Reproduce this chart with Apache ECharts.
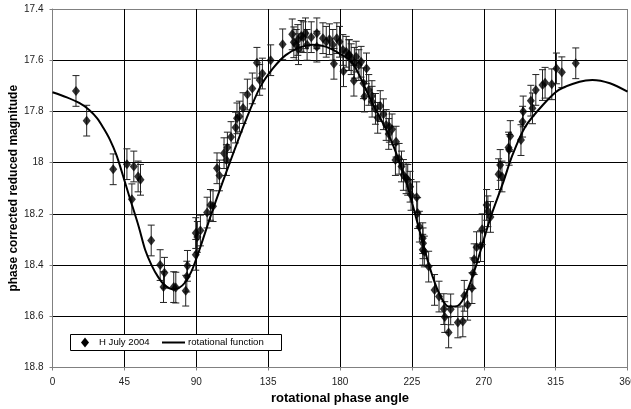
<!DOCTYPE html>
<html><head><meta charset="utf-8">
<script src="https://cdn.jsdelivr.net/npm/echarts@6/dist/echarts.min.js"></script>
<style>html,body{margin:0;padding:0;background:#fff}#c{width:631px;height:409px}</style>
</head><body><div id="c"></div>
<script>
// Observations: rotational phase angle (deg), phase corrected reduced magnitude, error
var phaseAngle = [14.7,21.4,38,46.6,49.7,50.9,53.6,55.1,61.8,67.4,69.5,70.1,75.9,77.2,83.4,84.1,84.5,89.7,89.7,90.7,
  92.6,96.8,98.9,100.5,103,104.5,107.4,108.9,109.5,111.8,114.6,115.5,117,119.3,122,125.1,128,129.7,131.4,136.6,
  144.1,150.1,151.1,152.6,153.6,154,155.7,157,158.4,159.4,162,165.5,165.5,169.3,171.4,173.4,175.5,176.2,178,179.7,
  181.8,182.2,183.9,185.5,185.9,187,188.7,189,190.1,191.8,193.2,194.7,195.3,196.6,198,200,200.1,202.2,203.6,205.2,
  207.2,208.9,210.5,210.9,212.6,215.1,214.7,217,218.5,219.7,221.4,222.4,223.9,224.5,228,228.6,229.7,231.8,232,231.8,
  232.8,235.5,239.2,242,245,245.6,248,249.3,253.8,256.9,257.8,259.9,262.6,263.2,264,265.5,268,269,271.8,272.6,
  274.2,279.3,280.3,281.4,285.5,285.9,286.6,293.3,294.3,294.7,299.5,300.5,302.6,306.8,308.4,312.6,315.5,318.9,327.6];
var magnitude = [17.72,17.836,18.026,18.006,18.143,18.015,18.054,18.067,18.304,18.40,18.486,18.43,18.486,18.488,18.50,18.445,18.403,18.36,18.275,18.29,
  18.265,18.195,18.165,18.17,18.022,18.05,17.963,17.99,17.941,17.90,17.863,17.827,17.82,17.787,17.734,17.71,17.61,17.677,17.652,17.60,
  17.538,17.499,17.53,17.54,17.521,17.557,17.505,17.51,17.495,17.54,17.51,17.495,17.547,17.514,17.528,17.518,17.54,17.614,17.514,17.528,
  17.56,17.643,17.567,17.58,17.58,17.596,17.68,17.61,17.586,17.619,17.606,17.69,17.742,17.632,17.716,17.74,17.762,17.79,17.825,17.779,
  17.811,17.853,17.888,17.86,17.87,17.918,17.99,17.985,18.015,18.048,18.061,18.067,18.094,18.126,18.135,18.197,18.25,18.295,18.315,18.34,
  18.347,18.406,18.497,18.523,18.572,18.603,18.663,18.573,18.624,18.62,18.52,18.555,18.49,18.432,18.377,18.33,18.326,18.26,18.165,18.19,
  18.212,18.045,18.009,18.054,17.941,17.95,17.896,17.912,17.84,17.80,17.758,17.788,17.716,17.697,17.688,17.694,17.632,17.647,17.612];
var magError = [0.06,0.06,0.06,0.06,0.06,0.06,0.06,0.06,0.06,0.06,0.06,0.06,0.06,0.06,0.06,0.06,0.06,0.06,0.06,0.06,
  0.06,0.06,0.06,0.06,0.06,0.06,0.06,0.06,0.06,0.06,0.06,0.06,0.06,0.06,0.06,0.06,0.06,0.06,0.06,0.06,
  0.06,0.06,0.06,0.06,0.06,0.06,0.06,0.06,0.06,0.06,0.06,0.06,0.06,0.06,0.06,0.06,0.06,0.06,0.06,0.06,
  0.06,0.06,0.06,0.06,0.06,0.06,0.06,0.06,0.06,0.06,0.06,0.06,0.06,0.06,0.06,0.06,0.06,0.06,0.06,0.06,
  0.06,0.06,0.06,0.06,0.06,0.06,0.06,0.06,0.06,0.06,0.06,0.06,0.06,0.06,0.06,0.06,0.06,0.06,0.06,0.06,
  0.06,0.06,0.06,0.06,0.06,0.06,0.06,0.06,0.06,0.06,0.06,0.06,0.06,0.06,0.06,0.06,0.06,0.06,0.06,0.06,
  0.06,0.06,0.06,0.06,0.06,0.06,0.06,0.06,0.06,0.06,0.06,0.06,0.06,0.06,0.06,0.06,0.06,0.06,0.06];
// Rotational function
var curveAngle = [0,9,17,23,28,32,36,40,44,48,54,58,62,66,70,75,79,83,87,92,100,111,121,130,138,146,155,163,171,180,188,200,211,221,230,236,242,248,254,259,265,271,275,282,288,296,307,317,330,338,349,360];
var curveMag = [17.725,17.745,17.768,17.794,17.827,17.866,17.911,17.97,18.048,18.13,18.25,18.34,18.40,18.445,18.477,18.494,18.49,18.468,18.425,18.34,18.19,18.00,17.835,17.705,17.632,17.58,17.55,17.54,17.547,17.575,17.612,17.765,17.898,18.067,18.27,18.406,18.51,18.562,18.558,18.51,18.406,18.28,18.2,18.08,17.97,17.86,17.775,17.716,17.684,17.677,17.69,17.723];
var xTicks = [0,45,90,135,180,225,270,315,360];
var yTicks = [17.4,17.6,17.8,18,18.2,18.4,18.6,18.8];
var legendNames = ['H July 2004','rotational function'];

var pts = phaseAngle.map(function(a,i){return [a, magnitude[i]];});
var errs = phaseAngle.map(function(a,i){return [a, magnitude[i]-magError[i], magnitude[i]+magError[i]];});
var curve = curveAngle.map(function(a,i){return [a, curveMag[i]];});

var FONT = '"Liberation Sans", Arial, sans-serif';
var chart = echarts.init(document.getElementById('c'));
function gridColors(n){var a=[];for(var i=0;i<n;i++)a.push(i===0||i===n-1?'#808080':'#000');return a;}
var legendFont = {fontFamily:FONT,fontSize:9.6,fill:'#000'};
chart.setOption({
  animation:false,
  backgroundColor:'#fff',
  grid:{left:52.5,right:3.5,top:9,bottom:41.5,containLabel:false,outerBoundsMode:'none'},
  graphic:[
    {type:'rect',z:100,shape:{x:70.5,y:334.5,width:211,height:16},style:{fill:'#fff',stroke:'#000',lineWidth:1}},
    {type:'polygon',z:101,shape:{points:[[85,337.5],[89,342.5],[85,347.5],[81,342.5]]},style:{fill:'#000'}},
    {type:'text',z:101,x:99,y:342.5,style:Object.assign({text:legendNames[0],verticalAlign:'middle'},legendFont)},
    {type:'line',z:101,shape:{x1:162,y1:342.5,x2:185,y2:342.5},style:{stroke:'#000',lineWidth:2}},
    {type:'text',z:101,x:188,y:342.5,style:Object.assign({text:legendNames[1],verticalAlign:'middle'},legendFont)}
  ],
  xAxis:{
    type:'value', min:xTicks[0], max:xTicks[xTicks.length-1], interval:45,
    name:'rotational phase angle', nameLocation:'middle', nameGap:24, nameMoveOverlap:false,
    nameTextStyle:{fontFamily:FONT,fontSize:13,fontWeight:'bold',color:'#000'},
    axisLine:{show:true,lineStyle:{color:'#808080',width:1}},
    axisTick:{show:true,length:3,lineStyle:{color:'#808080'}},
    axisLabel:{fontFamily:FONT,fontSize:10,color:'#222',margin:10,showMaxLabel:true},
    splitLine:{show:true,lineStyle:{color:gridColors(9),width:1}}
  },
  yAxis:{
    type:'value', inverse:true, min:yTicks[0], max:yTicks[yTicks.length-1], interval:0.2,
    name:'phase corrected reduced magnitude', nameLocation:'middle', nameGap:33, nameMoveOverlap:false,
    nameTextStyle:{fontFamily:FONT,fontSize:12,fontWeight:'bold',color:'#000'},
    axisLine:{show:true,lineStyle:{color:'#808080',width:1}},
    axisTick:{show:true,length:3,lineStyle:{color:'#808080'}},
    axisLabel:{fontFamily:FONT,fontSize:10,color:'#222',margin:9,
      formatter:function(v){return String(Math.round(v*10)/10);}},
    splitLine:{show:true,lineStyle:{color:gridColors(8),width:1}}
  },
  series:[
    {
      name:'errors', type:'custom', data:errs, z:2, silent:true,
      renderItem:function(params,api){
        var x=api.value(0), lo=api.coord([x,api.value(1)]), hi=api.coord([x,api.value(2)]);
        var cw=3.5;
        var st={stroke:'#222',lineWidth:1};
        return {type:'group',children:[
          {type:'line',shape:{x1:lo[0],y1:lo[1],x2:hi[0],y2:hi[1]},style:st},
          {type:'line',shape:{x1:lo[0]-cw,y1:lo[1],x2:lo[0]+cw,y2:lo[1]},style:st},
          {type:'line',shape:{x1:hi[0]-cw,y1:hi[1],x2:hi[0]+cw,y2:hi[1]},style:st}
        ]};
      }
    },
    {
      name:legendNames[1], type:'line', data:curve, smooth:0.3, symbol:'none', z:3,
      lineStyle:{color:'#000',width:2}, itemStyle:{color:'#000'}
    },
    {
      name:legendNames[0], type:'scatter', data:pts, symbol:'diamond', symbolSize:[8,10], z:4,
      itemStyle:{color:'#000'}
    }
  ]
});
</script></body></html>
